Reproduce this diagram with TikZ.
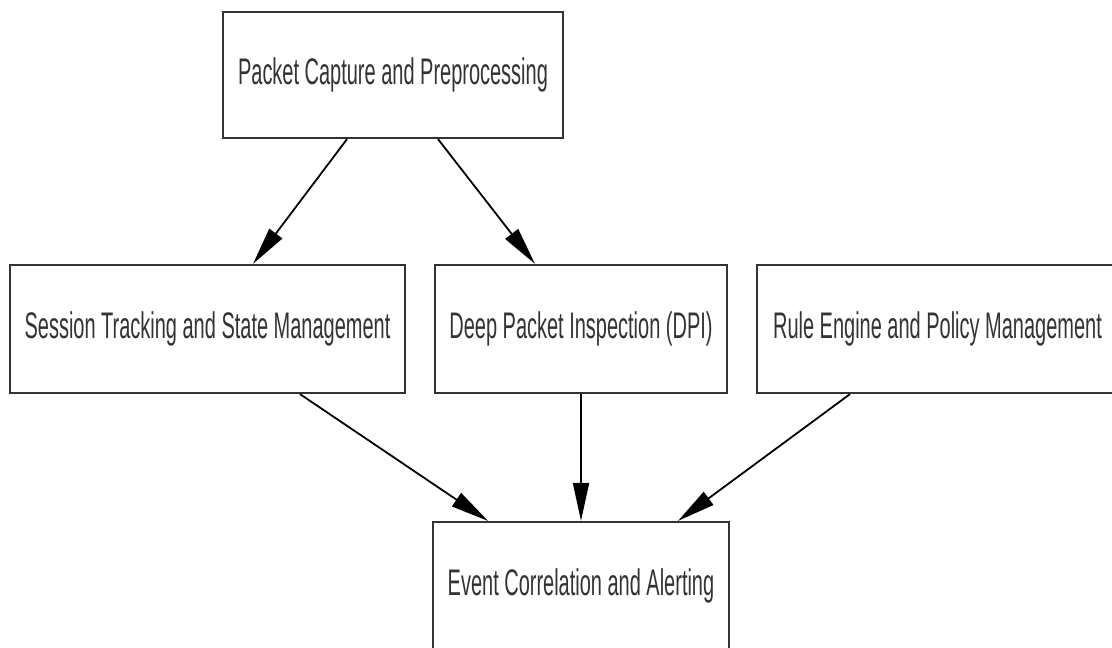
\documentclass[tikz,border=0pt]{standalone}
\usepackage{fontspec}
\setmainfont{Liberation Sans}[FakeStretch=0.54]
\usetikzlibrary{arrows.meta}
\definecolor{boxline}{HTML}{333333}
\definecolor{textgray}{HTML}{333333}
\begin{document}
\begin{tikzpicture}[x=1pt,y=-1pt,
  box/.style={draw=boxline, line width=2.2pt, fill=white, text=textgray,
    minimum height=128pt, inner sep=0pt, font=\fontsize{37}{44}\selectfont},
  flow/.style={draw=black, line width=1.8pt, -{Triangle[length=38pt,width=16pt]}}]
\useasboundingbox (0,0) rectangle (1112,648);

% processing stages
\node[box, minimum width=340pt, minimum height=126pt] (capture) at (393,75) {Packet Capture and Preprocessing};
\node[box, minimum width=395pt] (session) at (207.5,329) {Session Tracking and State Management};
\node[box, minimum width=292pt] (dpi) at (581,329) {Deep Packet Inspection (DPI)};
\node[box, minimum width=361pt] (rule) at (937.5,329) {Rule Engine and Policy Management};
\node[box, minimum width=296pt] (event) at (581,586) {Event Correlation and Alerting};

% data flow
\draw[flow] ([xshift=-46pt]capture.south) -- ([xshift=45.5pt]session.north);
\draw[flow] ([xshift=45pt]capture.south) -- ([xshift=-46pt]dpi.north);
\draw[flow] ([xshift=92.5pt]session.south) -- ([xshift=-93pt]event.north);
\draw[flow] (dpi.south) -- (event.north);
\draw[flow] ([xshift=-87.5pt]rule.south) -- ([xshift=97pt]event.north);
\end{tikzpicture}
\end{document}
